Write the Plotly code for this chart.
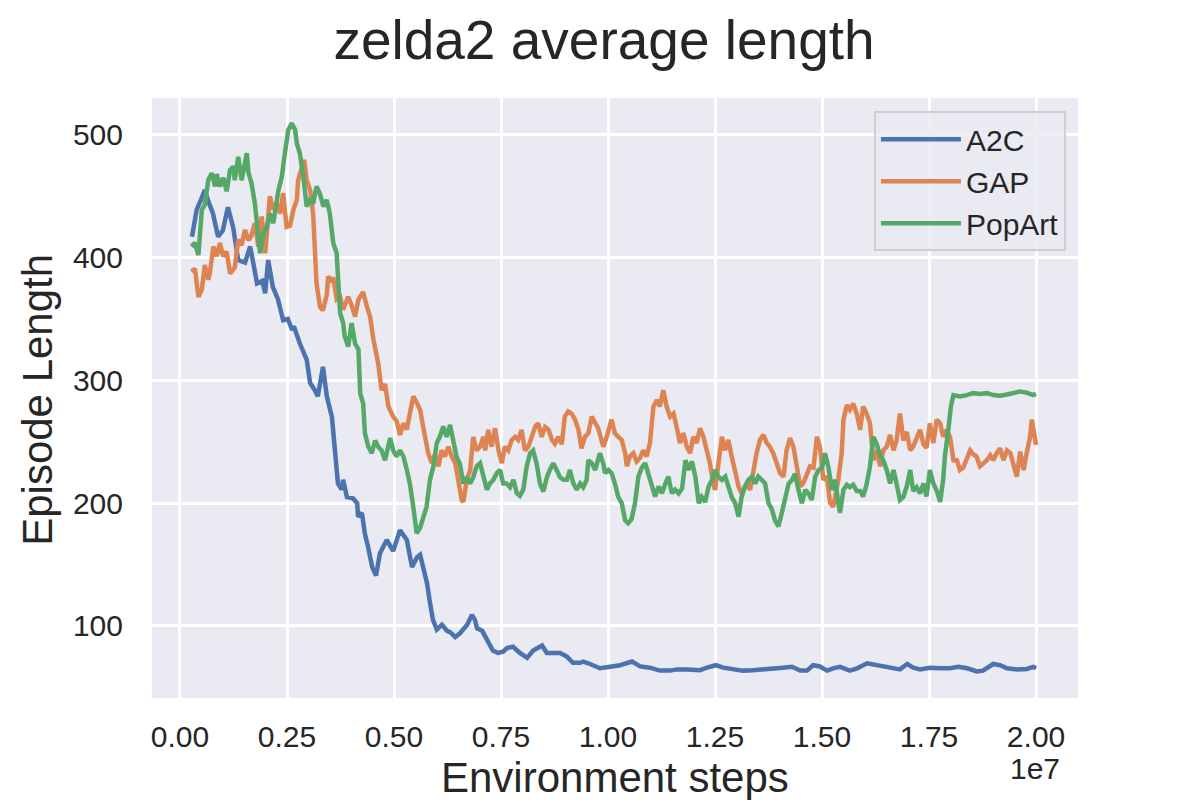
import plotly.graph_objects as go

# ---------------- data (x in units of 1e7 environment steps) ----------------
a2c_steps = [0.028,0.039,0.049,0.058,0.065,0.077,0.089,0.100,0.112,0.124,
    0.136,0.152,0.164,0.180,0.192,0.199,0.206,0.217,0.229,0.241,
    0.252,0.262,0.266,0.276,0.280,0.296,0.304,0.315,0.322,0.334,
    0.343,0.355,0.362,0.369,0.378,0.381,0.390,0.404,0.414,0.416,
    0.425,0.432,0.439,0.449,0.458,0.467,0.483,0.498,0.514,0.521,
    0.530,0.542,0.554,0.561,0.568,0.577,0.584,0.591,0.600,0.612,
    0.624,0.631,0.643,0.654,0.671,0.682,0.689,0.694,0.706,0.717,
    0.731,0.743,0.755,0.764,0.778,0.794,0.811,0.825,0.846,0.857,
    0.871,0.888,0.904,0.918,0.935,0.942,0.958,0.981,1.005,1.028,
    1.056,1.075,1.098,1.121,1.145,1.161,1.184,1.215,1.231,1.252,
    1.269,1.292,1.315,1.339,1.362,1.386,1.409,1.430,1.449,1.465,
    1.479,1.495,1.512,1.526,1.542,1.565,1.582,1.605,1.629,1.643,
    1.666,1.682,1.699,1.713,1.729,1.752,1.776,1.799,1.818,1.839,
    1.862,1.876,1.900,1.916,1.932,1.956,1.979,1.993,2.000]
a2c_length = [417,439,447,455,447,436,417,422,441,425,
    398,396,409,379,381,371,398,376,366,349,
    350,341,344,333,330,317,298,292,287,311,
    287,270,243,216,211,219,205,204,200,189,
    192,175,165,148,141,159,170,161,178,174,
    170,148,156,158,148,135,119,105,97,101,
    96,95,91,94,101,109,105,98,96,89,
    80,78,79,82,83,78,74,80,84,78,
    78,78,75,70,70,71,69,65.5,66.8,68,
    71,67,66,63.6,63.6,64.6,64.6,64,66,68,
    66,64.6,63.6,64,64.6,64.6,66,66.7,63.6,63.6,
    68,67,63.6,65.5,66.7,63.6,65.5,69.6,68,67,
    65,64.6,69,66,64.6,66,65.5,65.5,66.7,65.5,
    62.9,63.6,69,68,65.5,64.6,65,66.7,65.5]

gap_steps = [0.027,0.035,0.043,0.051,0.058,0.066,0.070,0.078,0.086,0.093,
    0.101,0.109,0.117,0.128,0.136,0.144,0.152,0.160,0.167,0.175,
    0.183,0.191,0.199,0.206,0.210,0.218,0.226,0.234,0.241,0.249,
    0.257,0.265,0.273,0.276,0.284,0.290,0.296,0.304,0.311,0.315,
    0.319,0.327,0.334,0.343,0.346,0.354,0.358,0.366,0.374,0.381,
    0.393,0.401,0.409,0.417,0.428,0.436,0.444,0.452,0.456,0.463,
    0.471,0.479,0.487,0.498,0.506,0.514,0.522,0.530,0.537,0.545,
    0.553,0.561,0.568,0.576,0.580,0.588,0.596,0.604,0.611,0.619,
    0.627,0.635,0.643,0.650,0.658,0.662,0.670,0.678,0.685,0.693,
    0.701,0.709,0.713,0.720,0.728,0.736,0.744,0.752,0.759,0.767,
    0.775,0.783,0.790,0.798,0.806,0.814,0.822,0.830,0.837,0.845,
    0.853,0.861,0.869,0.876,0.884,0.892,0.899,0.907,0.915,0.923,
    0.931,0.938,0.946,0.954,0.962,0.969,0.977,0.989,0.997,1.008,
    1.016,1.024,1.032,1.040,1.044,1.051,1.059,1.067,1.075,1.082,
    1.090,1.098,1.106,1.114,1.121,1.129,1.137,1.145,1.153,1.160,
    1.168,1.176,1.184,1.192,1.199,1.207,1.215,1.223,1.231,1.238,
    1.246,1.250,1.258,1.266,1.273,1.281,1.289,1.297,1.305,1.312,
    1.324,1.332,1.339,1.347,1.355,1.363,1.371,1.378,1.386,1.394,
    1.402,1.410,1.417,1.425,1.433,1.441,1.449,1.456,1.464,1.472,
    1.480,1.488,1.495,1.503,1.511,1.519,1.526,1.538,1.546,1.550,
    1.558,1.565,1.573,1.581,1.589,1.596,1.604,1.612,1.620,1.628,
    1.636,1.643,1.651,1.659,1.667,1.674,1.682,1.690,1.698,1.706,
    1.713,1.721,1.729,1.737,1.744,1.752,1.760,1.768,1.776,1.783,
    1.791,1.799,1.807,1.815,1.822,1.830,1.838,1.846,1.853,1.861,
    1.869,1.877,1.885,1.893,1.900,1.908,1.916,1.924,1.932,1.940,
    1.947,1.955,1.963,1.971,1.978,1.986,1.990,1.996,2.000]
gap_length = [388.6,391,368,374,394,382,388,409,401,412,
    401,405,387,392,414.5,410,422.6,414,418,428,
    409,433.5,403.6,428,450,439,444,436,452.5,425,
    426,439,447,463,474,479.6,463,455,436,406,
    379,360,357,370,384.6,380,384,366,368,357.5,
    368,361,352,366,372,361,352,333,327,314,
    292,297,278.7,270.5,267,255.6,265,260,273,287,
    282,276,262.4,249,240.7,232.6,240,230,243,238,
    246,238,232.6,219,202.6,201,219,227,254,243,
    246,254,243,259.7,246,261,243,232.6,246,243,
    251.5,254,251.5,259.7,243,246,254,262.4,265,254,
    262,259.7,251.5,248.3,254,248,270.5,274.6,273,268,
    259.7,244.7,254,257,270.5,266,261,246,254,268,
    257,254,251.5,240.8,230,238,240.7,234,237,243,
    238,249,278.7,284,278.7,292,278.7,270.5,273,262.4,
    249,257,246,240.7,254,249,261,254,243,232.6,
    216,210.8,232.6,254,243,251.5,238,227,213.6,208,
    216,210.8,227,240.7,251.5,255.6,249,246,240.7,232.6,
    224.4,221.6,243,253,246,230,213.6,216,224.4,230,
    229,254,246,219,221.6,200,197,219,241,268,
    280,276,281,273,259.7,278.7,273,265,235,243,
    230,243,246,255.6,243,251,273,251,258,243,
    246,254,259.7,248,245,265,249,268,265,254,
    259.7,254,235,235,227,229,235,243,240,238,
    230,232.6,235,239,235,240.7,244.7,235,243,240.7,
    230,221.6,242,227,240.7,254,268,254,247.5]

popart_steps = [0.027,0.035,0.043,0.051,0.058,0.066,0.074,0.082,0.086,0.093,
    0.101,0.109,0.117,0.125,0.128,0.136,0.144,0.152,0.156,0.160,
    0.167,0.175,0.179,0.183,0.187,0.195,0.203,0.210,0.218,0.230,
    0.238,0.245,0.253,0.261,0.269,0.273,0.280,0.288,0.296,0.304,
    0.311,0.319,0.327,0.335,0.343,0.350,0.358,0.366,0.370,0.374,
    0.381,0.385,0.393,0.401,0.409,0.417,0.421,0.428,0.432,0.440,
    0.448,0.456,0.463,0.471,0.479,0.487,0.491,0.498,0.506,0.514,
    0.522,0.530,0.537,0.545,0.553,0.561,0.568,0.576,0.584,0.592,
    0.600,0.607,0.615,0.623,0.631,0.639,0.646,0.654,0.662,0.670,
    0.678,0.685,0.693,0.701,0.709,0.717,0.724,0.732,0.740,0.748,
    0.755,0.763,0.771,0.779,0.787,0.794,0.802,0.810,0.818,0.825,
    0.833,0.841,0.849,0.857,0.864,0.872,0.880,0.888,0.896,0.904,
    0.911,0.919,0.927,0.935,0.942,0.950,0.954,0.962,0.970,0.977,
    0.981,0.989,0.993,1.001,1.009,1.016,1.024,1.032,1.040,1.047,
    1.055,1.063,1.071,1.079,1.087,1.094,1.102,1.110,1.118,1.126,
    1.134,1.141,1.149,1.157,1.165,1.173,1.181,1.188,1.196,1.204,
    1.212,1.219,1.227,1.235,1.243,1.250,1.258,1.266,1.274,1.282,
    1.289,1.297,1.305,1.312,1.320,1.328,1.336,1.344,1.351,1.359,
    1.367,1.375,1.383,1.390,1.398,1.406,1.414,1.422,1.430,1.437,
    1.445,1.453,1.461,1.468,1.476,1.484,1.492,1.500,1.507,1.515,
    1.523,1.531,1.538,1.542,1.550,1.558,1.565,1.573,1.581,1.589,
    1.596,1.604,1.612,1.620,1.628,1.636,1.643,1.651,1.659,1.667,
    1.674,1.682,1.690,1.698,1.706,1.713,1.721,1.729,1.737,1.744,
    1.752,1.760,1.768,1.776,1.783,1.787,1.795,1.801,1.807,1.822,
    1.838,1.853,1.869,1.885,1.900,1.916,1.932,1.947,1.963,1.978,
    1.986,1.993,2.000]
popart_length = [409,412,402,439,443,463,468.8,458,468,458,
    465,454,471.5,474,463,482,463,477,485,469,
    460.7,444,430.8,414.5,403.6,420,425,436,428,455,
    466,485,504,509.5,504,493,485,466,441.6,447,
    444,458,452,441.6,447,436,412,403.6,379,355,
    347,335.7,327.5,346.6,330,325,289.6,281,257,246,
    240.7,251,246,243,235,248,253,243,238,243,
    238,227,216,197,175.5,180,189,197,219,230,
    249,254,262.4,254,263.7,251,238,232,216,221,
    216,221,230,232.6,221,211,216,219,224.4,227,
    216,216,213,219,208,206,211,230,240.7,243,
    232.6,216,209.5,221,227,232.6,227,221,219,219,
    227,216,211,216,213,219,235,232.6,227,235,
    240.7,232,224.4,227,224,216,205,200,186,183.6,
    187,200,221.6,229,232.6,224,213.6,205.4,213.6,208,
    216,221.6,208,211,208,212,235,227,234,221.6,
    200,205,201,213.6,219,227,221.6,219,221.6,210.8,
    205,200,189,205,213.6,219,221.6,216,221.6,219,
    216,200,195,186,181,192,205.4,216,219,224,
    210.8,200,210.8,208,202.6,221.6,227,229,240.7,229,
    210.8,219,200,192,210.8,215,213,215,210,210,
    205.4,215,230,254,248,238,235,227,216,227,
    216,202.6,205,213.6,227,210,213,208,216,205.4,
    227,216,210,201,219,238,259.7,278.7,288,287,
    288,289.6,289,289.6,288,287.5,288.5,289.6,291,290,
    289,288,289]

series_names = ["A2C", "GAP", "PopArt"]
series_colors = ["#4C72B0", "#DD8452", "#55A868"]
x_tick_values = [0, 0.25, 0.5, 0.75, 1.0, 1.25, 1.5, 1.75, 2.0]
x_tick_labels = ["0.00", "0.25", "0.50", "0.75", "1.00", "1.25", "1.50", "1.75", "2.00"]
y_tick_values = [100, 200, 300, 400, 500]
SCALE = 1e7

all_steps = [a2c_steps, gap_steps, popart_steps]
all_lengths = [a2c_length, gap_length, popart_length]
for s, l in zip(all_steps, all_lengths):
    n = min(len(s), len(l))
    del s[n:]
    del l[n:]

FONT = "Liberation Sans, Arial, Helvetica, sans-serif"
TXT = "#262626"

fig = go.Figure()
for name, color, xs, ys in zip(series_names, series_colors, all_steps, all_lengths):
    fig.add_trace(go.Scatter(
        x=[v * SCALE for v in xs], y=ys, mode="lines", name=name,
        line=dict(color=color, width=4.5),
    ))

# the page body adds an 8 px offset, so the figure is 1192x792
fig.update_layout(
    width=1192, height=792,
    margin=dict(l=144, r=122, t=90, b=102),
    plot_bgcolor="#EAEAF2", paper_bgcolor="white",
    font=dict(family=FONT, color=TXT, size=30),
    title=dict(text="zelda2 average length", x=0.5, xanchor="center",
               xref="container", y=1 - 32 / 792, yanchor="middle",
               font=dict(size=55, color=TXT, family=FONT)),
    showlegend=True,
    legend=dict(x=0.987, xanchor="right", y=0.978, yanchor="top",
                bgcolor="rgba(234,234,242,0.85)", bordercolor="#CFCFCF",
                borderwidth=2, font=dict(size=30, color=TXT, family=FONT),
                itemwidth=80, entrywidth=106, entrywidthmode="pixels"),
)

fig.update_xaxes(
    range=[-0.0654 * SCALE, 2.098 * SCALE], automargin=False,
    tickmode="array", tickvals=[v * SCALE for v in x_tick_values], ticktext=x_tick_labels,
    showgrid=True, gridcolor="white", gridwidth=2.5, zeroline=False, showline=False,
    ticks="", ticklabelstandoff=18,
    tickfont=dict(size=30, color=TXT, family=FONT),
)
fig.update_yaxes(
    range=[41.3, 530], automargin=False,
    tickmode="array", tickvals=y_tick_values,
    showgrid=True, gridcolor="white", gridwidth=2.5, zeroline=False, showline=False,
    ticks="", ticklabelstandoff=28,
    tickfont=dict(size=30, color=TXT, family=FONT),
)

# axis titles and the offset text
fig.add_annotation(text="Environment steps", xref="paper", yref="paper", x=0.5, y=-0.1333,
                   xanchor="center", yanchor="middle", showarrow=False,
                   font=dict(size=42, color=TXT, family=FONT))
fig.add_annotation(text="Episode Length", xref="paper", yref="paper", x=-0.1231, y=0.497,
                   xanchor="center", yanchor="middle", textangle=-90, showarrow=False,
                   font=dict(size=42, color=TXT, family=FONT))
fig.add_annotation(text="1e7", xref="paper", yref="paper", x=0.9827, y=-0.1167,
                   xanchor="right", yanchor="middle", showarrow=False,
                   font=dict(size=30, color=TXT, family=FONT))

fig.write_html("out.html")
